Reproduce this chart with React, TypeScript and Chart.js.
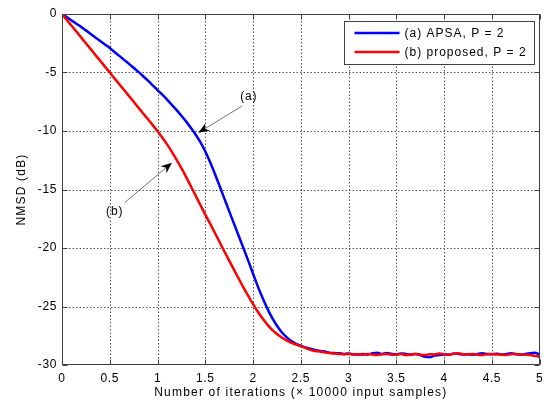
import React, { useEffect, useRef } from 'react';
import { Chart, registerables } from 'chart.js';

Chart.register(...registerables);

// ---------- data ----------
const xValues = [
  0, 0.05, 0.1, 0.15, 0.2, 0.25, 0.3, 0.35, 0.4, 0.45, 0.5,
  0.55, 0.6, 0.65, 0.7, 0.75, 0.8, 0.85, 0.9, 0.95, 1.0,
  1.05, 1.1, 1.15, 1.2, 1.25, 1.3, 1.35, 1.4, 1.45, 1.5,
  1.55, 1.6, 1.65, 1.7, 1.75, 1.8, 1.85, 1.9, 1.95, 2.0,
  2.05, 2.1, 2.15, 2.2, 2.25, 2.3, 2.35, 2.4, 2.45, 2.5,
  2.55, 2.6, 2.65, 2.7, 2.75, 2.8, 2.85, 2.9, 2.95, 3.0,
  3.05, 3.1, 3.15, 3.2, 3.25, 3.3, 3.35, 3.4, 3.45, 3.5,
  3.55, 3.6, 3.65, 3.7, 3.75, 3.8, 3.85, 3.9, 3.95, 4.0,
  4.05, 4.1, 4.15, 4.2, 4.25, 4.3, 4.35, 4.4, 4.45, 4.5,
  4.55, 4.6, 4.65, 4.7, 4.75, 4.8, 4.85, 4.9, 4.95, 5.0,
];

const apsaValues = [
  0, -0.27, -0.55, -0.83, -1.10, -1.40, -1.70, -2.00, -2.30, -2.60, -2.90,
  -3.25, -3.58, -3.92, -4.25, -4.60, -4.95, -5.32, -5.70, -6.10, -6.50,
  -6.90, -7.32, -7.76, -8.22, -8.70, -9.20, -9.74, -10.32, -10.98, -11.75,
  -12.65, -13.65, -14.70, -15.78, -16.85, -17.92, -18.98, -20.02, -21.10, -22.20,
  -23.28, -24.28, -25.18, -25.98, -26.65, -27.20, -27.62, -27.95, -28.20, -28.35,
  -28.50, -28.60, -28.72, -28.80, -28.85, -28.95, -28.98, -29.00, -29.05, -29.02,
  -29.08, -29.12, -29.05, -29.10, -29.00, -28.95, -29.05, -28.98, -29.05, -29.10,
  -29.02, -29.05, -29.10, -29.05, -29.15, -29.30, -29.32, -29.20, -29.15, -29.10,
  -29.12, -29.02, -29.05, -29.10, -29.08, -29.12, -29.05, -29.00, -29.05, -29.08,
  -29.03, -29.10, -29.05, -29.00, -29.08, -29.12, -29.05, -29.00, -28.95, -29.10,
];

const proposedValues = [
  0, -0.50, -1.00, -1.50, -2.00, -2.50, -3.00, -3.50, -4.00, -4.50, -5.00,
  -5.50, -6.00, -6.50, -7.00, -7.50, -8.00, -8.50, -9.00, -9.50, -10.02,
  -10.56, -11.14, -11.78, -12.46, -13.18, -13.94, -14.74, -15.55, -16.35, -17.15,
  -17.92, -18.70, -19.50, -20.30, -21.08, -21.85, -22.63, -23.38, -24.10, -24.80,
  -25.45, -26.03, -26.55, -27.00, -27.35, -27.65, -27.90, -28.10, -28.25, -28.40,
  -28.55, -28.70, -28.80, -28.85, -28.92, -28.98, -29.02, -29.05, -29.08, -29.05,
  -29.10, -29.08, -29.12, -29.05, -29.10, -29.15, -29.08, -29.05, -29.12, -29.10,
  -29.05, -29.15, -29.10, -29.05, -29.12, -29.15, -29.08, -29.10, -29.02, -29.08,
  -29.12, -29.05, -29.00, -29.08, -29.10, -29.05, -29.12, -29.15, -29.08, -29.05,
  -29.10, -29.12, -29.15, -29.08, -29.05, -29.10, -29.12, -29.15, -29.22, -29.30,
];

const seriesLabels = ['(a) APSA, P = 2', '(b) proposed, P = 2'];
const seriesColors = ['#0000ff', '#ff0000'];

const xTickValues = [0, 0.5, 1, 1.5, 2, 2.5, 3, 3.5, 4, 4.5, 5];
const xTickLabels = ['0', '0.5', '1', '1.5', '2', '2.5', '3', '3.5', '4', '4.5', '5'];
const yTickValues = [0, -5, -10, -15, -20, -25, -30];
const yTickLabels = ['0', '-5', '-10', '-15', '-20', '-25', '-30'];

const xTitle = 'Number of iterations (\u00d7 10000 input samples)';
const yTitle = 'NMSD (dB)';

// annotation: label, text centre, line start, arrow tip (data units)
const annotationLabels = ['(a)', '(b)'];
const annotationText = [[1.954, -7.07], [0.551, -16.9]];
const annotationFrom = [[1.885, -7.86], [0.655, -16.13]];
const annotationTip = [[1.427, -10.15], [1.151, -12.71]];

const FONT = '"Liberation Sans", Arial, Helvetica, sans-serif';

const decorPlugin = {
  id: 'matlabDecor',
  beforeDraw(chart: any) {
    const ctx = chart.ctx;
    ctx.save();
    ctx.fillStyle = '#ffffff';
    ctx.fillRect(0, 0, chart.width, chart.height);
    ctx.restore();
    (ctx as any).letterSpacing = '0.6px';
  },
  beforeDatasetsDraw(chart: any) {
    const { ctx, chartArea, scales } = chart;
    const { left, right, top, bottom } = chartArea;
    ctx.save();
    (ctx as any).letterSpacing = '0px';
    ctx.strokeStyle = '#555555';
    ctx.lineWidth = 1;
    ctx.setLineDash([1.5, 2]);
    xTickValues.forEach((v) => {
      const px = Math.round(scales.x.getPixelForValue(v)) + 0.5;
      if (px <= left + 1 || px >= right - 1) return;
      ctx.beginPath();
      ctx.moveTo(px, top);
      ctx.lineTo(px, bottom);
      ctx.stroke();
    });
    yTickValues.forEach((v) => {
      const py = Math.round(scales.y.getPixelForValue(v)) + 0.5;
      if (py <= top + 1 || py >= bottom - 1) return;
      ctx.beginPath();
      ctx.moveTo(left, py);
      ctx.lineTo(right, py);
      ctx.stroke();
    });
    ctx.restore();
  },
  afterDraw(chart: any) {
    const { ctx, chartArea, scales } = chart;
    const { left, right, top, bottom } = chartArea;
    ctx.save();
    ctx.setLineDash([]);
    (ctx as any).letterSpacing = '0px';

    // frame
    const L = Math.round(left) + 0.5;
    const R = Math.round(right) - 0.5;
    const T = Math.round(top) + 0.5;
    const B = Math.round(bottom) - 0.5;
    ctx.strokeStyle = '#404040';
    ctx.lineWidth = 1;
    ctx.strokeRect(L, T, R - L, B - T);

    // inward tick marks on all four sides
    const tl = 5;
    ctx.beginPath();
    xTickValues.forEach((v) => {
      const px = Math.round(scales.x.getPixelForValue(v)) + 0.5;
      ctx.moveTo(px, B);
      ctx.lineTo(px, B - tl);
      ctx.moveTo(px, T);
      ctx.lineTo(px, T + tl);
    });
    yTickValues.forEach((v) => {
      const py = Math.round(scales.y.getPixelForValue(v)) + 0.5;
      ctx.moveTo(L, py);
      ctx.lineTo(L + tl, py);
      ctx.moveTo(R, py);
      ctx.lineTo(R - tl, py);
    });
    ctx.stroke();

    // annotations
    ctx.font = '12px ' + FONT;
    (ctx as any).letterSpacing = '0.8px';
    ctx.fillStyle = '#000';
    ctx.textAlign = 'center';
    ctx.textBaseline = 'middle';
    annotationLabels.forEach((lab, i) => {
      const tx = scales.x.getPixelForValue(annotationText[i][0]);
      const ty = scales.y.getPixelForValue(annotationText[i][1]);
      ctx.fillText(lab, tx, ty);
      const fx = scales.x.getPixelForValue(annotationFrom[i][0]);
      const fy = scales.y.getPixelForValue(annotationFrom[i][1]);
      const px = scales.x.getPixelForValue(annotationTip[i][0]);
      const py = scales.y.getPixelForValue(annotationTip[i][1]);
      const dx = px - fx;
      const dy = py - fy;
      const len = Math.sqrt(dx * dx + dy * dy);
      const ux = dx / len;
      const uy = dy / len;
      const hl = 11;
      const hw = 4.5;
      const bx = px - ux * hl;
      const by = py - uy * hl;
      ctx.strokeStyle = '#777777';
      ctx.lineWidth = 1;
      ctx.beginPath();
      ctx.moveTo(fx, fy);
      ctx.lineTo(px - ux * hl * 0.7, py - uy * hl * 0.7);
      ctx.stroke();
      ctx.fillStyle = '#000';
      ctx.beginPath();
      ctx.moveTo(px, py);
      ctx.lineTo(bx - uy * hw, by + ux * hw);
      ctx.lineTo(px - ux * hl * 0.7, py - uy * hl * 0.7);
      ctx.lineTo(bx + uy * hw, by - ux * hw);
      ctx.closePath();
      ctx.fill();
    });

    // legend
    const lbR = Math.round(right) - 5.5;
    const lbT = Math.round(top) + 7.5;
    const lbW = 190;
    const lbH = 43;
    const lbL = lbR - lbW;
    ctx.fillStyle = '#ffffff';
    ctx.fillRect(lbL, lbT, lbW, lbH);
    ctx.strokeStyle = '#404040';
    ctx.lineWidth = 1;
    ctx.strokeRect(lbL, lbT, lbW, lbH);
    ctx.textAlign = 'left';
    ctx.textBaseline = 'middle';
    ctx.font = '12px ' + FONT;
    (ctx as any).letterSpacing = '1px';
    seriesLabels.forEach((lab, i) => {
      const yy = lbT + 11.5 + i * 19;
      ctx.strokeStyle = seriesColors[i];
      ctx.lineWidth = 2.5;
      ctx.beginPath();
      ctx.moveTo(lbL + 10, yy);
      ctx.lineTo(lbL + 55, yy);
      ctx.stroke();
      ctx.fillStyle = '#000';
      ctx.fillText(lab, lbL + 60, yy + 0.5);
    });

    // axis titles
    (ctx as any).letterSpacing = '1.2px';
    ctx.fillStyle = '#000';
    ctx.textAlign = 'center';
    ctx.textBaseline = 'middle';
    ctx.fillText(xTitle, (left + right) / 2, 393);
    ctx.save();
    ctx.translate(22, (top + bottom) / 2);
    ctx.rotate(-Math.PI / 2);
    ctx.fillText(yTitle, 0, 0);
    ctx.restore();

    ctx.restore();
    (ctx as any).letterSpacing = '0px';
  },
};

export default function App() {
  const canvasRef = useRef<HTMLCanvasElement | null>(null);

  useEffect(() => {
    const canvas = canvasRef.current;
    if (!canvas) return;
    const chart = new Chart(canvas, {
      type: 'line',
      data: {
        datasets: [
          {
            label: seriesLabels[0],
            data: xValues.map((x, i) => ({ x, y: apsaValues[i] })),
            borderColor: seriesColors[0],
            backgroundColor: seriesColors[0],
            borderWidth: 2.5,
            pointRadius: 0,
            cubicInterpolationMode: 'monotone',
            order: 2,
          },
          {
            label: seriesLabels[1],
            data: xValues.map((x, i) => ({ x, y: proposedValues[i] })),
            borderColor: seriesColors[1],
            backgroundColor: seriesColors[1],
            borderWidth: 2.5,
            pointRadius: 0,
            cubicInterpolationMode: 'monotone',
            order: 1,
          },
        ],
      },
      options: {
        responsive: false,
        animation: false,
        devicePixelRatio: 1,
        layout: { padding: { top: 14, right: 6, left: 0, bottom: 0 } },
        plugins: {
          legend: { display: false },
          tooltip: { enabled: false },
          title: { display: false },
        },
        scales: {
          x: {
            type: 'linear',
            min: 0,
            max: 5,
            grid: { display: false, drawTicks: false },
            border: { display: false },
            afterBuildTicks: (s: any) => {
              s.ticks = xTickValues.map((v) => ({ value: v }));
            },
            afterFit: (s: any) => {
              s.height = 39;
            },
            ticks: {
              autoSkip: false,
              maxRotation: 0,
              padding: 6,
              color: '#000',
              font: { size: 12, family: FONT },
              callback: (_v: any, i: number) => xTickLabels[i],
            },
          },
          y: {
            type: 'linear',
            min: -30,
            max: 0,
            grid: { display: false, drawTicks: false },
            border: { display: false },
            afterBuildTicks: (s: any) => {
              s.ticks = yTickValues.slice().reverse().map((v) => ({ value: v }));
            },
            afterFit: (s: any) => {
              s.width = 62;
            },
            ticks: {
              autoSkip: false,
              padding: 5,
              color: '#000',
              font: { size: 12, family: FONT },
              callback: (_v: any, i: number) => yTickLabels.slice().reverse()[i],
            },
          },
        },
      } as any,
      plugins: [decorPlugin as any],
    });
    return () => chart.destroy();
  }, []);

  return (
    <div style={{ position: 'absolute', left: 0, top: 0, width: 549, height: 404, background: '#ffffff' }}>
      <canvas ref={canvasRef} width={549} height={404} style={{ display: 'block', width: 549, height: 404 }} />
    </div>
  );
}
